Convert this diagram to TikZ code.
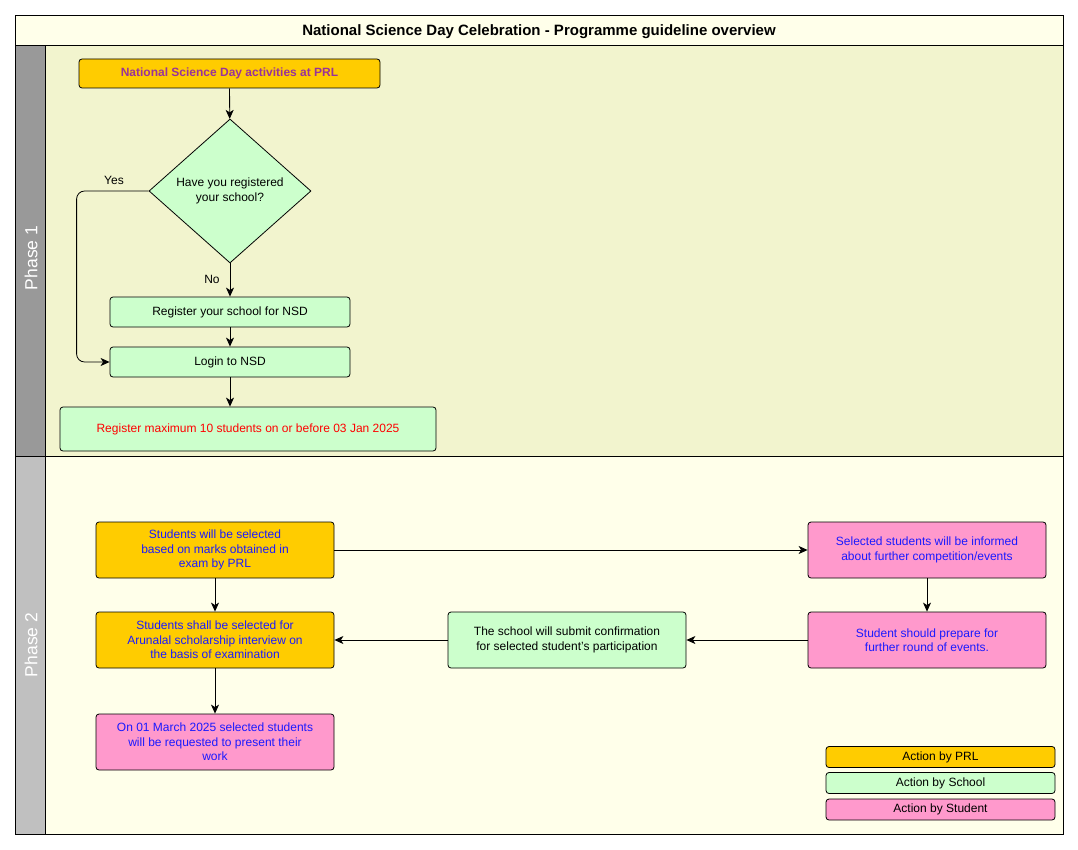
\documentclass[tikz,border=0pt]{standalone}
\usepackage{fontspec}
\setmainfont{Liberation Sans}
\usetikzlibrary{shapes.geometric,arrows.meta}
\definecolor{prlc}{HTML}{FFCC00}
\definecolor{schoolc}{HTML}{CCFFCC}
\definecolor{studc}{HTML}{FF99CC}
\definecolor{laneone}{HTML}{F2F4CE}
\definecolor{lanetwo}{HTML}{FFFFEA}
\definecolor{headone}{HTML}{999999}
\definecolor{headtwo}{HTML}{C0C0C0}
\definecolor{purp}{HTML}{993399}
\definecolor{bluetxt}{HTML}{1A1AFF}
\tikzset{
  box/.style={draw=black, line width=0.8pt, rounded corners=3pt, align=center, inner sep=0pt,
    font=\fontsize{12}{14.5}\selectfont},
  arr/.style={draw=black, line width=0.8pt, -{Stealth[length=9pt,width=8pt,inset=2.5pt]}},
  lbl/.style={font=\fontsize{12}{14}\selectfont, inner sep=0pt},
}
\begin{document}
\begin{tikzpicture}[x=1pt,y=-1pt]
\useasboundingbox (0,0) rectangle (1078,850);
\fill[white] (0,0) rectangle (1078,850);
% swimlanes
\filldraw[fill=lanetwo, draw=black, line width=0.8pt] (15,15) rectangle (1063,45);
\filldraw[fill=laneone, draw=black, line width=0.8pt] (45,45) rectangle (1063,456);
\filldraw[fill=headone, draw=black, line width=0.8pt] (15,45) rectangle (45,456);
\filldraw[fill=lanetwo, draw=black, line width=0.8pt] (45,456) rectangle (1063,834);
\filldraw[fill=headtwo, draw=black, line width=0.8pt] (15,456) rectangle (45,834);
\node[font=\bfseries\fontsize{15}{17}\selectfont] (title) at (539,32) {National Science Day Celebration - Programme guideline overview};
\node[rotate=90, text=white, font=\fontsize{17.5}{20}\selectfont] (ph1) at (31,258) {Phase 1};
\node[rotate=90, text=white, font=\fontsize{17.5}{20}\selectfont] (ph2) at (31,645) {Phase 2};
% phase 1
\node[box, fill=prlc, text=purp, font=\bfseries\fontsize{12}{14.5}\selectfont, minimum width=301pt, minimum height=29pt] (top) at (229.5,73.5) {National Science Day activities at PRL};
\node[diamond, draw=black, line width=0.8pt, fill=schoolc, minimum width=162pt, minimum height=144pt, inner sep=0pt, align=center, font=\fontsize{12}{15}\selectfont] (dia) at (230,191) {Have you registered\\your school?};
\node[box, fill=schoolc, minimum width=240pt, minimum height=30pt] (reg) at (230,312) {Register your school for NSD};
\node[box, fill=schoolc, minimum width=240pt, minimum height=30pt] (login) at (230,362) {Login to NSD};
\node[box, fill=schoolc, text=red, minimum width=376pt, minimum height=44pt] (max) at (248,429) {Register maximum 10 students on or before 03 Jan 2025};
\draw[arr] (top) -- (dia);
\draw[arr] (dia.south) -- (reg.north);
\draw[arr] (reg) -- (login);
\draw[arr] (login.south) -- (login.south |- max.north);
\draw[arr, rounded corners=8pt] (dia.west) -- ++(-72,0) |- (login.west);
\node[lbl] (yes) at (114,180) {Yes};
\node[lbl] (no) at (212,279) {No};
% phase 2
\node[box, fill=prlc, text=bluetxt, minimum width=238pt, minimum height=56pt] (s1) at (215,550) {Students will be selected\\based on marks obtained in\\exam by PRL};
\node[box, fill=prlc, text=bluetxt, minimum width=238pt, minimum height=56pt] (s2) at (215,640) {Students shall be selected for\\Arunalal scholarship interview on\\the basis of examination};
\node[box, fill=studc, text=bluetxt, minimum width=238pt, minimum height=56pt] (s3) at (215,742) {On 01 March 2025 selected students\\will be requested to present their\\work};
\node[box, fill=studc, text=bluetxt, minimum width=238pt, minimum height=56pt] (p1) at (927,550) {Selected students will be informed\\about further competition/events};
\node[box, fill=studc, text=bluetxt, minimum width=238pt, minimum height=56pt] (p2) at (927,640) {Student should prepare for\\further round of events.};
\node[box, fill=schoolc, minimum width=238pt, minimum height=56pt] (sch) at (567,640) {The school will submit confirmation\\for selected student's participation};
\draw[arr] (s1) -- (p1);
\draw[arr] (p1) -- (p2);
\draw[arr] (p2) -- (sch);
\draw[arr] (sch) -- (s2);
\draw[arr] (s1) -- (s2);
\draw[arr] (s2) -- (s3);
% legend
\node[box, fill=prlc, minimum width=229pt, minimum height=21pt] (lg1) at (940.5,757) {Action by PRL};
\node[box, fill=schoolc, minimum width=229pt, minimum height=21pt] (lg2) at (940.5,783) {Action by School};
\node[box, fill=studc, minimum width=229pt, minimum height=21pt] (lg3) at (940.5,809.5) {Action by Student};
\end{tikzpicture}
\end{document}
